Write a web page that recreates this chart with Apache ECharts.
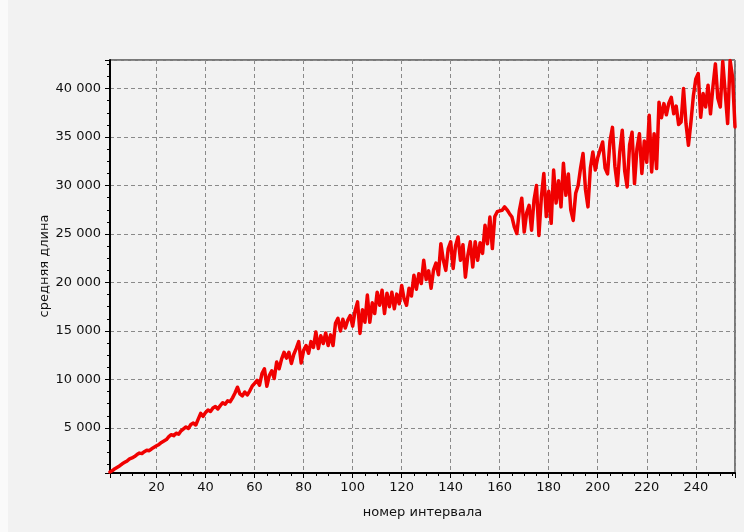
<!DOCTYPE html>
<html>
<head>
<meta charset="utf-8">
<script src="https://cdn.jsdelivr.net/npm/echarts@6/dist/echarts.min.js"></script>
<style>
  html, body { margin: 0; padding: 0; background: #f2f2f2; }
  #chart { width: 744px; height: 532px; }
</style>
</head>
<body>
<div id="chart"></div>
<script>
// средняя длина по номеру интервала (1..256)
const lengths = [
  450, 600, 800, 950, 1100, 1300, 1450, 1600, 1800, 1900,
  2050, 2250, 2400, 2350, 2550, 2700, 2650, 2850, 3000, 3150,
  3300, 3500, 3650, 3800, 4100, 4300, 4200, 4450, 4350, 4700,
  4900, 5100, 4950, 5350, 5500, 5300, 5900, 6500, 6200, 6600,
  6850, 6700, 7050, 7200, 6950, 7300, 7600, 7450, 7800, 7700,
  8100, 8600, 9200, 8500, 8300, 8700, 8400, 8800, 9300, 9600,
  9900, 9400, 10600, 11100, 9300, 10400, 10900, 10100, 11800, 11100,
  12100, 12800, 12200, 12800, 11650, 12600, 13200, 13900, 11700, 13000,
  13500, 12700, 13900, 13300, 14900, 13200, 14500, 13700, 14800, 13500,
  14600, 13500, 15800, 16300, 15000, 16200, 15300, 16100, 16600, 15500,
  17100, 18000, 14750, 17200, 15900, 18700, 15900, 17900, 16800, 19000,
  17650, 19200, 16800, 18900, 17500, 19000, 17300, 18800, 17800, 19700,
  18300, 17650, 19400, 18600, 20750, 19300, 20900, 19900, 22300, 20300,
  21200, 19400, 21300, 22000, 20800, 24000, 22300, 21250, 23500, 24200,
  21450, 23800, 24700, 22300, 23900, 20550, 22800, 24200, 21600, 24200,
  22300, 24100, 23000, 25900, 24000, 26750, 23500, 26800, 27300, 27400,
  27450, 27800, 27500, 27100, 26750, 25700, 25050, 27400, 28700, 25200,
  27200, 27950, 25400, 28500, 30000, 24850, 28800, 31250, 26800, 29400,
  26100, 31600, 28200, 30500, 27800, 32300, 29000, 31200, 27500, 26400,
  29200, 30000, 31800, 33300, 29600, 27800, 31800, 33450, 31600, 32900,
  33700, 34500, 31800, 31200, 34600, 36000, 32000, 30000, 33500, 35700,
  31500, 29850, 34200, 35500, 30200, 33800, 35350, 31250, 34600, 32400,
  37250, 31400, 35350, 31750, 38600, 37000, 38450, 37300, 38500, 39100,
  37400, 38200, 36300, 36550, 40000, 36400, 34150, 36500, 39200, 41000,
  41550, 37050, 39500, 38100, 40350, 37400, 40200, 42550, 39000, 38100,
  42800, 39600, 36400, 42900, 41200, 36050
];

const xMin = 1;
const xMax = 256;
const yMin = 350;
const yMax = 42950;

const xTitle = 'номер интервала';
const yTitle = 'средняя длина';

const points = lengths.map((v, i) => [i + 1, v]);

const fmtThousands = (v) => String(v).replace(/\B(?=(\d{3})+(?!\d))/g, ' ');

const chart = echarts.init(document.getElementById('chart'));

const option = {
  backgroundColor: '#f2f2f2',
  animation: false,
  textStyle: { fontFamily: 'DejaVu Sans, sans-serif' },
  graphic: [
    { type: 'rect', shape: { x: 0, y: 0, width: 8, height: 532 }, style: { fill: '#fafafa' }, silent: true },
    // подпись оси Y, повернутая
    {
      type: 'text', x: 45, y: 266, rotation: Math.PI / 2, silent: true,
      style: {
        text: yTitle, fill: '#111', fontSize: 13, fontFamily: 'DejaVu Sans, sans-serif',
        align: 'center', verticalAlign: 'middle'
      }
    }
  ],
  grid: {
    left: 110, top: 60, right: 9, bottom: 59,
    show: true, borderColor: '#000', borderWidth: 1, backgroundColor: 'transparent'
  },
  xAxis: {
    type: 'value',
    min: xMin, max: xMax,
    splitNumber: 12,
    name: xTitle,
    nameLocation: 'middle',
    nameGap: 33,
    nameTextStyle: { color: '#111', fontSize: 13 },
    axisLine: { show: true, onZero: false, lineStyle: { color: '#000', width: 2 } },
    axisTick: { show: true, length: 5, lineStyle: { color: '#000' } },
    minorTick: { show: true, splitNumber: 4, length: 3, lineStyle: { color: '#000' } },
    axisLabel: {
      color: '#111', fontSize: 13, margin: 8,
      showMinLabel: false, showMaxLabel: false,
      formatter: (v) => (v % 20 === 0 ? String(v) : '')
    },
    splitLine: { show: true, lineStyle: { color: '#8a8a8a', type: [4, 3], width: 1 } }
  },
  yAxis: {
    type: 'value',
    min: yMin, max: yMax,
    splitNumber: 8,
    axisLine: { show: true, onZero: false, lineStyle: { color: '#000', width: 2 } },
    axisTick: { show: true, length: 5, lineStyle: { color: '#000' } },
    minorTick: { show: true, splitNumber: 4, length: 3, lineStyle: { color: '#000' } },
    axisLabel: {
      color: '#111', fontSize: 13, margin: 9,
      showMinLabel: false, showMaxLabel: false,
      formatter: (v) => (v % 5000 === 0 ? fmtThousands(v) : '')
    },
    splitLine: { show: true, lineStyle: { color: '#8a8a8a', type: [4, 3], width: 1 } }
  },
  series: [{
    type: 'line',
    data: points,
    showSymbol: false,
    clip: true,
    lineStyle: { color: '#f00000', width: 3.5, join: 'round', cap: 'round' },
    z: 3
  }]
};

chart.setOption(option);
</script>
</body>
</html>
